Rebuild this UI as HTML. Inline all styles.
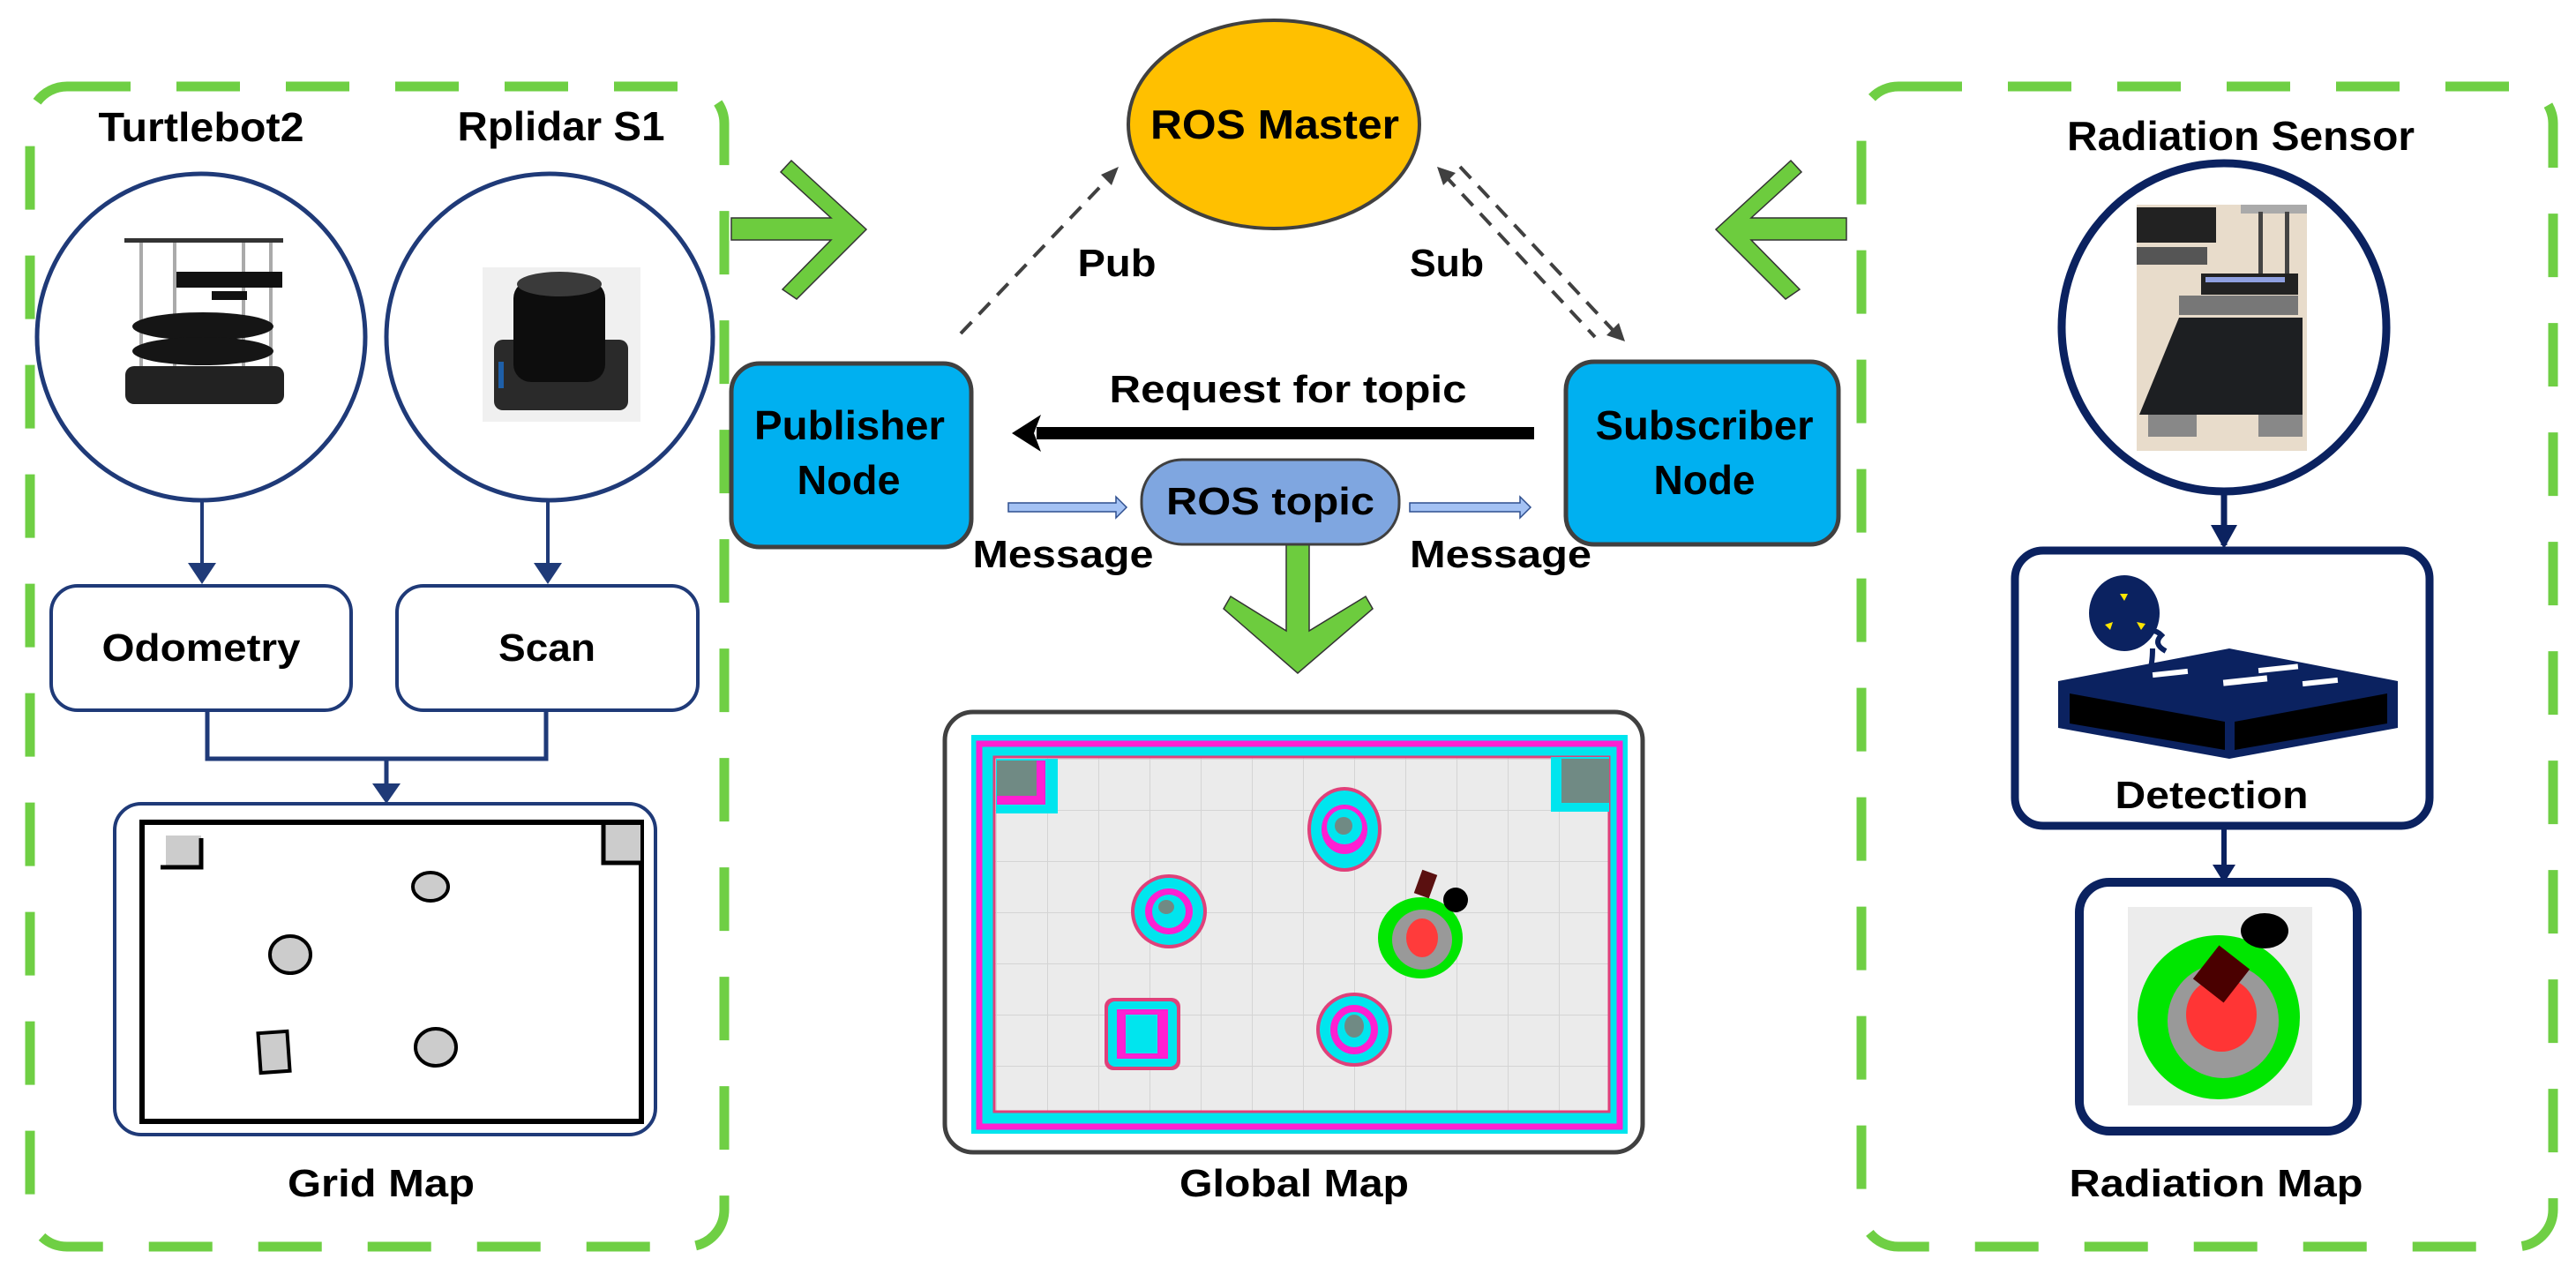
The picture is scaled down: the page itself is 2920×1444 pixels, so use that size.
<!DOCTYPE html>
<html><head><meta charset="utf-8"><style>
html,body{margin:0;padding:0;background:#fff;}
svg{display:block;}
text{font-family:"Liberation Sans Narrow","Liberation Sans",Arial,sans-serif;font-weight:bold;fill:#000;}
</style></head><body>
<svg width="2920" height="1444" viewBox="0 0 2920 1444" xmlns="http://www.w3.org/2000/svg">
<defs>
<pattern id="grid" width="58" height="58" patternUnits="userSpaceOnUse" x="1129" y="860">
<rect width="58" height="58" fill="#ebebeb"/><path d="M0,0H58M0,0V58" stroke="#d4d4d4" stroke-width="2"/></pattern>
</defs>

<!-- Dashed green boxes -->
<rect x="34" y="98" width="787" height="1315" rx="42" fill="none" stroke="#6fcf44" stroke-width="11" stroke-dasharray="72 52"/>
<rect x="2110" y="98" width="784" height="1315" rx="42" fill="none" stroke="#6fcf44" stroke-width="11" stroke-dasharray="72 52"/>

<!-- Left panel -->
<text x="228" y="160" font-size="46" text-anchor="middle" textLength="233" lengthAdjust="spacingAndGlyphs">Turtlebot2</text>
<text x="636" y="159" font-size="46" text-anchor="middle" textLength="235" lengthAdjust="spacingAndGlyphs">Rplidar S1</text>
<ellipse cx="228" cy="382" rx="186" ry="185" fill="#fff" stroke="#1f3a78" stroke-width="5"/>
<ellipse cx="623" cy="382" rx="185" ry="185" fill="#fff" stroke="#1f3a78" stroke-width="5"/>
<!-- turtlebot -->
<g>
<rect x="141" y="270" width="180" height="5" fill="#333"/>
<rect x="158" y="275" width="4" height="150" fill="#aaa"/><rect x="196" y="275" width="4" height="150" fill="#aaa"/>
<rect x="274" y="275" width="4" height="150" fill="#aaa"/><rect x="305" y="275" width="4" height="150" fill="#aaa"/>
<rect x="200" y="308" width="120" height="18" fill="#111"/><rect x="240" y="330" width="40" height="10" fill="#111"/>
<ellipse cx="230" cy="370" rx="80" ry="16" fill="#151515"/>
<ellipse cx="230" cy="398" rx="80" ry="16" fill="#151515"/>
<rect x="142" y="415" width="180" height="43" rx="10" fill="#222"/>
</g>
<!-- lidar -->
<g>
<rect x="547" y="303" width="179" height="175" fill="#f0f0f0"/>
<rect x="560" y="385" width="152" height="80" rx="10" fill="#2a2a2a"/>
<rect x="582" y="318" width="104" height="115" rx="20" fill="#0d0d0d"/>
<ellipse cx="634" cy="322" rx="48" ry="14" fill="#3a3a3a"/>
<rect x="565" y="410" width="6" height="30" fill="#1e5fa8"/>
</g>
<line x1="229" y1="567" x2="229" y2="645" stroke="#1f3a78" stroke-width="4"/>
<polygon points="213,638 245,638 229,662" fill="#1f3a78"/>
<line x1="621" y1="567" x2="621" y2="645" stroke="#1f3a78" stroke-width="4"/>
<polygon points="605,638 637,638 621,662" fill="#1f3a78"/>
<rect x="58" y="664" width="340" height="141" rx="30" fill="#fff" stroke="#1f3a78" stroke-width="4"/>
<rect x="450" y="664" width="341" height="141" rx="30" fill="#fff" stroke="#1f3a78" stroke-width="4"/>
<text x="228" y="749" font-size="44" text-anchor="middle" textLength="225" lengthAdjust="spacingAndGlyphs">Odometry</text>
<text x="620" y="749" font-size="44" text-anchor="middle" textLength="110" lengthAdjust="spacingAndGlyphs">Scan</text>
<polyline points="235,805 235,860 619,860 619,805" fill="none" stroke="#1f3a78" stroke-width="5"/>
<line x1="438" y1="860" x2="438" y2="895" stroke="#1f3a78" stroke-width="5"/>
<polygon points="422,888 454,888 438,911" fill="#1f3a78"/>
<rect x="130" y="911" width="613" height="375" rx="30" fill="#fff" stroke="#1f3a78" stroke-width="4"/>
<!-- grid map -->
<rect x="161" y="932" width="566" height="339" fill="#fff" stroke="#000" stroke-width="6"/>
<rect x="188" y="947" width="40" height="36" fill="#ccc"/>
<path d="M182,983 H228 V950" fill="none" stroke="#000" stroke-width="5"/>
<rect x="684" y="935" width="42" height="44" fill="#ccc"/>
<path d="M684,932 V978 H727" fill="none" stroke="#000" stroke-width="5"/>
<ellipse cx="488" cy="1005" rx="20" ry="16" fill="#ccc" stroke="#000" stroke-width="4"/>
<ellipse cx="329" cy="1082" rx="23" ry="21" fill="#ccc" stroke="#000" stroke-width="4"/>
<ellipse cx="494" cy="1187" rx="23" ry="21" fill="#ccc" stroke="#000" stroke-width="4"/>
<rect x="294" y="1170" width="33" height="45" fill="#ccc" stroke="#000" stroke-width="4" transform="rotate(-4 310 1192)"/>
<text x="432" y="1356" font-size="44" text-anchor="middle" textLength="212" lengthAdjust="spacingAndGlyphs">Grid Map</text>

<!-- Green arrows -->
<polygon points="897,182 982,260 903,339 887,328 942,272 829,272 829,247 942,247 885,195" fill="#6dcc3e" stroke="#333" stroke-width="1.5"/>
<polygon points="2030,182 1945,260 2024,339 2040,328 1985,272 2093,272 2093,247 1985,247 2042,195" fill="#6dcc3e" stroke="#333" stroke-width="1.5"/>
<polygon points="1458,614 1484,614 1484,715 1548,676 1556,690 1471,763 1387,690 1395,676 1458,715" fill="#6dcc3e" stroke="#333" stroke-width="1.5"/>

<!-- ROS Master -->
<ellipse cx="1444" cy="141" rx="165" ry="118" fill="#ffc000" stroke="#404040" stroke-width="4"/>
<text x="1445" y="157" font-size="46" text-anchor="middle" textLength="282" lengthAdjust="spacingAndGlyphs">ROS Master</text>
<!-- Pub -->
<line x1="1089" y1="378" x2="1262" y2="196" stroke="#404040" stroke-width="4" stroke-dasharray="18 12"/>
<polygon points="1268,189 1248,198 1260,210" fill="#404040"/>
<text x="1266" y="313" font-size="44" text-anchor="middle" textLength="89" lengthAdjust="spacingAndGlyphs">Pub</text>
<!-- Sub -->
<line x1="1637" y1="198" x2="1808" y2="382" stroke="#404040" stroke-width="4" stroke-dasharray="18 12"/>
<polygon points="1629,189 1650,196 1636,210" fill="#404040"/>
<line x1="1655" y1="189" x2="1830" y2="376" stroke="#404040" stroke-width="4" stroke-dasharray="18 12"/>
<polygon points="1842,387 1821,380 1835,366" fill="#404040"/>
<text x="1640" y="313" font-size="44" text-anchor="middle" textLength="84" lengthAdjust="spacingAndGlyphs">Sub</text>

<!-- Nodes -->
<rect x="829" y="412" width="272" height="208" rx="32" fill="#00b0f0" stroke="#404040" stroke-width="5"/>
<text x="963" y="498" font-size="46" text-anchor="middle" textLength="216" lengthAdjust="spacingAndGlyphs">Publisher</text>
<text x="962" y="560" font-size="46" text-anchor="middle" textLength="117" lengthAdjust="spacingAndGlyphs">Node</text>
<rect x="1775" y="410" width="309" height="207" rx="32" fill="#00b0f0" stroke="#404040" stroke-width="5"/>
<text x="1932" y="498" font-size="46" text-anchor="middle" textLength="247" lengthAdjust="spacingAndGlyphs">Subscriber</text>
<text x="1932" y="560" font-size="46" text-anchor="middle" textLength="115" lengthAdjust="spacingAndGlyphs">Node</text>

<text x="1460" y="456" font-size="44" text-anchor="middle" textLength="405" lengthAdjust="spacingAndGlyphs">Request for topic</text>
<rect x="1175" y="484" width="564" height="14" fill="#000"/>
<polygon points="1147,491 1180,470 1172,491 1180,512" fill="#000"/>

<rect x="1294" y="521" width="292" height="96" rx="46" fill="#7fa6e0" stroke="#404040" stroke-width="3"/>
<text x="1440" y="583" font-size="44" text-anchor="middle" textLength="236" lengthAdjust="spacingAndGlyphs">ROS topic</text>
<polygon points="1143,570 1265,570 1265,563 1277,575 1265,587 1265,580 1143,580" fill="#a4c2f4" stroke="#2f4f8f" stroke-width="1.5"/>
<polygon points="1598,570 1723,570 1723,563 1735,575 1723,587 1723,580 1598,580" fill="#a4c2f4" stroke="#2f4f8f" stroke-width="1.5"/>
<text x="1205" y="643" font-size="44" text-anchor="middle" textLength="205" lengthAdjust="spacingAndGlyphs">Message</text>
<text x="1701" y="643" font-size="44" text-anchor="middle" textLength="206" lengthAdjust="spacingAndGlyphs">Message</text>

<!-- Global map -->
<rect x="1071" y="807" width="791" height="499" rx="32" fill="#fff" stroke="#404040" stroke-width="5"/>
<rect x="1101" y="833" width="744" height="452" fill="#00e5ee"/>
<rect x="1110" y="843" width="726" height="434" fill="none" stroke="#ff1fd2" stroke-width="7"/>
<rect x="1121" y="853" width="708" height="414" fill="none" stroke="#00e5ee" stroke-width="7"/>
<rect x="1127" y="858" width="697" height="402" fill="url(#grid)" stroke="#e0407a" stroke-width="3"/>
<rect x="1129" y="860" width="70" height="62" fill="#00e5ee"/>
<rect x="1130" y="862" width="55" height="50" fill="#ff1fd2"/>
<rect x="1130" y="862" width="45" height="40" fill="#708a84"/>
<rect x="1758" y="858" width="66" height="62" fill="#00e5ee"/>
<rect x="1770" y="860" width="54" height="50" fill="#708a84"/>
<g>
<ellipse cx="1524" cy="940" rx="42" ry="48" fill="#e0407a"/><ellipse cx="1524" cy="940" rx="38" ry="44" fill="#00e5ee"/>
<ellipse cx="1524" cy="940" rx="26" ry="28" fill="#ff1fd2"/><ellipse cx="1524" cy="937" rx="20" ry="20" fill="#00e5ee"/><ellipse cx="1523" cy="936" rx="10" ry="10" fill="#708a84"/>
<ellipse cx="1325" cy="1033" rx="43" ry="42" fill="#e0407a"/><ellipse cx="1325" cy="1033" rx="39" ry="38" fill="#00e5ee"/>
<ellipse cx="1325" cy="1033" rx="27" ry="26" fill="#ff1fd2"/><ellipse cx="1325" cy="1033" rx="19" ry="19" fill="#00e5ee"/><ellipse cx="1322" cy="1028" rx="9" ry="8" fill="#708a84"/>
<ellipse cx="1535" cy="1167" rx="43" ry="42" fill="#e0407a"/><ellipse cx="1535" cy="1167" rx="39" ry="38" fill="#00e5ee"/>
<ellipse cx="1535" cy="1167" rx="27" ry="28" fill="#ff1fd2"/><ellipse cx="1535" cy="1167" rx="19" ry="20" fill="#00e5ee"/><ellipse cx="1535" cy="1163" rx="11" ry="13" fill="#708a84"/>
<rect x="1252" y="1131" width="86" height="82" rx="10" fill="#e0407a"/><rect x="1256" y="1135" width="78" height="74" rx="8" fill="#00e5ee"/>
<rect x="1266" y="1144" width="58" height="56" fill="#ff1fd2"/><rect x="1276" y="1150" width="36" height="44" fill="#00e5ee"/>
<ellipse cx="1610" cy="1063" rx="48" ry="46" fill="#00e600"/><ellipse cx="1612" cy="1065" rx="34" ry="34" fill="#999"/><ellipse cx="1612" cy="1063" rx="18" ry="22" fill="#ff3b3b"/>
<rect x="1607" y="988" width="18" height="28" fill="#5a1010" transform="rotate(20 1616 1002)"/>
<circle cx="1650" cy="1020" r="14" fill="#000"/>
</g>
<text x="1467" y="1356" font-size="44" text-anchor="middle" textLength="260" lengthAdjust="spacingAndGlyphs">Global Map</text>

<!-- Right panel -->
<text x="2540" y="170" font-size="46" text-anchor="middle" textLength="394" lengthAdjust="spacingAndGlyphs">Radiation Sensor</text>
<ellipse cx="2521" cy="371" rx="184" ry="186" fill="#fff" stroke="#0b2260" stroke-width="9"/>
<g>
<rect x="2422" y="232" width="193" height="279" fill="#e8dccb"/>
<rect x="2422" y="235" width="90" height="40" fill="#222"/>
<rect x="2422" y="280" width="80" height="20" fill="#555"/>
<rect x="2540" y="232" width="75" height="10" fill="#aaa"/>
<rect x="2560" y="240" width="5" height="70" fill="#444"/><rect x="2590" y="240" width="5" height="70" fill="#444"/>
<rect x="2495" y="310" width="110" height="24" fill="#222"/>
<rect x="2500" y="314" width="90" height="6" fill="#8fa0e0"/>
<rect x="2470" y="335" width="135" height="22" fill="#777"/>
<polygon points="2470,360 2610,360 2610,470 2425,470" fill="#1d1f22"/>
<rect x="2435" y="470" width="55" height="25" fill="#888"/><rect x="2560" y="470" width="50" height="25" fill="#888"/>
</g>
<line x1="2521" y1="557" x2="2521" y2="618" stroke="#0b2260" stroke-width="7"/>
<polygon points="2506,595 2536,595 2521,622" fill="#0b2260"/>
<rect x="2284" y="624" width="470" height="312" rx="32" fill="#fff" stroke="#0b2260" stroke-width="9"/>
<!-- detection icon -->
<ellipse cx="2408" cy="695" rx="40" ry="43" fill="#0b2260"/>
<polygon points="2403,673 2412,673 2408,681" fill="#ffe600"/><polygon points="2386,708 2395,705 2392,714" fill="#ffe600"/><polygon points="2422,705 2432,707 2427,714" fill="#ffe600"/>
<path d="M2430,720 q10,-10 20,0 q-10,10 5,18" fill="none" stroke="#0b2260" stroke-width="6"/>
<path d="M2440,735 q0,20 -5,30" fill="none" stroke="#0b2260" stroke-width="6"/>
<polygon points="2333,772 2527,735 2718,772 2718,825 2527,860 2333,825" fill="#0b2260"/>
<polygon points="2346,786 2522,818 2522,850 2346,820" fill="#000"/>
<polygon points="2533,818 2706,786 2706,820 2533,850" fill="#000"/>
<rect x="2440" y="760" width="40" height="6" fill="#fff" transform="rotate(-6 2460 763)"/>
<rect x="2520" y="768" width="50" height="7" fill="#fff" transform="rotate(-6 2545 771)"/>
<rect x="2560" y="755" width="45" height="6" fill="#fff" transform="rotate(-6 2580 758)"/>
<rect x="2610" y="770" width="40" height="6" fill="#fff" transform="rotate(-6 2630 773)"/>
<text x="2507" y="916" font-size="44" text-anchor="middle" textLength="219" lengthAdjust="spacingAndGlyphs">Detection</text>
<line x1="2521" y1="936" x2="2521" y2="995" stroke="#0b2260" stroke-width="6"/>
<polygon points="2508,980 2534,980 2521,1001" fill="#0b2260"/>
<rect x="2357" y="1000" width="315" height="282" rx="34" fill="#fff" stroke="#0b2260" stroke-width="10"/>
<rect x="2412" y="1028" width="209" height="225" fill="#ececec"/>
<ellipse cx="2515" cy="1153" rx="92" ry="93" fill="#00e600"/>
<ellipse cx="2520" cy="1157" rx="63" ry="65" fill="#999"/>
<ellipse cx="2518" cy="1150" rx="40" ry="42" fill="#ff3535"/>
<rect x="2496" y="1080" width="44" height="48" fill="#4a0000" transform="rotate(38 2518 1104)"/>
<ellipse cx="2567" cy="1055" rx="27" ry="20" fill="#000"/>
<text x="2512" y="1356" font-size="44" text-anchor="middle" textLength="333" lengthAdjust="spacingAndGlyphs">Radiation Map</text>
</svg>
</body></html>
